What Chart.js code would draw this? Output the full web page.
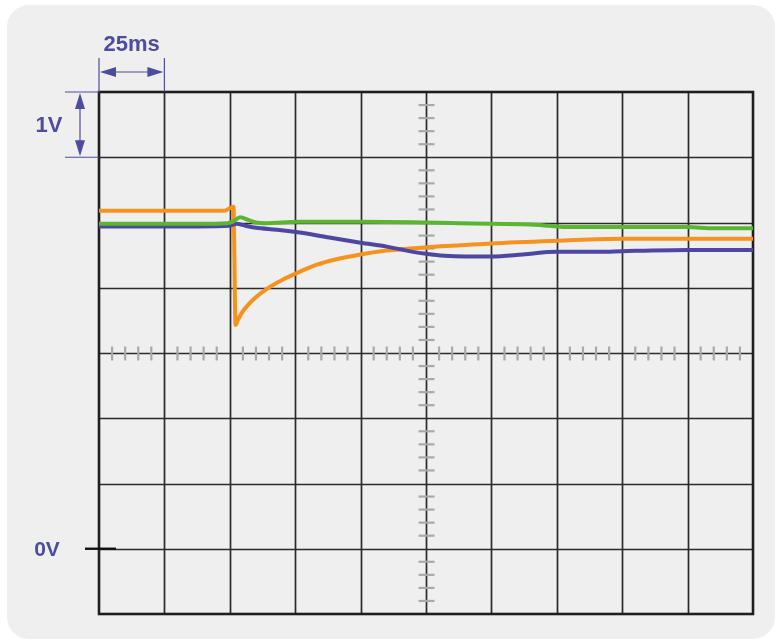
<!DOCTYPE html>
<html>
<head>
<meta charset="utf-8">
<script src="https://cdn.jsdelivr.net/npm/chart.js@4.4.1/dist/chart.umd.min.js"></script>
<style>
  html, body { margin: 0; padding: 0; background: #ffffff; }
  #wrap { width: 779px; height: 642px; position: relative; }
</style>
</head>
<body>
<div id="wrap"><canvas id="c" width="779" height="642"></canvas></div>
<script>
// ---- data (time in ms, voltage in V) ----
const greenT = [0, 38, 49, 51, 54, 57, 60, 64, 76, 100, 125, 138, 150, 165, 172, 178, 199, 225, 235, 250];
const greenV = [4.98, 4.98, 4.99, 5.01, 5.08, 5.04, 5.00, 4.99, 5.01, 5.01, 5.00, 4.99, 4.98, 4.97, 4.95, 4.93, 4.93, 4.93, 4.91, 4.91];

const blueT = [0, 38, 50, 52.5, 56, 60, 68, 76, 88, 100, 110, 115, 120, 125, 132, 140, 150, 162, 175, 192, 200, 225, 250];
const blueV = [4.94, 4.94, 4.95, 4.98, 4.95, 4.92, 4.89, 4.85, 4.77, 4.69, 4.63, 4.59, 4.55, 4.52, 4.49, 4.48, 4.48, 4.51, 4.55, 4.55, 4.56, 4.58, 4.58];

const orangeT = [0, 48, 50, 51.4, 52.2, 53, 55, 59, 64, 70, 77, 83, 90, 100, 110, 125, 138, 150, 175, 200, 225, 250];
const orangeV = [5.18, 5.18, 5.22, 5.24, 3.43, 3.50, 3.64, 3.82, 3.98, 4.12, 4.25, 4.35, 4.43, 4.51, 4.57, 4.62, 4.65, 4.68, 4.72, 4.75, 4.75, 4.75];

// scope settings
const timeDiv = 25;   // ms per division
const voltDiv = 1;    // V per division
const xMin = 0, xMax = 250;
const yMin = -1, yMax = 7;
const timeLabel = '25ms';
const voltLabel = '1V';
const zeroLabel = '0V';

const pts = (t, v) => t.map((x, i) => ({ x: x, y: v[i] }));

const PURPLE = '#4e4c9c';

function arrowHead(ctx, x, y, dir, len, half) {
  ctx.beginPath();
  ctx.moveTo(x, y);
  if (dir === 'l') { ctx.lineTo(x + len, y - half); ctx.lineTo(x + len, y + half); }
  if (dir === 'r') { ctx.lineTo(x - len, y - half); ctx.lineTo(x - len, y + half); }
  if (dir === 'u') { ctx.lineTo(x - half, y + len); ctx.lineTo(x + half, y + len); }
  if (dir === 'd') { ctx.lineTo(x - half, y - len); ctx.lineTo(x + half, y - len); }
  ctx.closePath();
  ctx.fill();
}

const scopePlugin = {
  id: 'scope',
  beforeDraw(chart) {
    const ctx = chart.ctx;
    ctx.save();
    ctx.fillStyle = '#efefef';
    ctx.beginPath();
    ctx.roundRect(7, 5, 768, 634, 22);
    ctx.fill();
    ctx.restore();
  },
  beforeDatasetsDraw(chart) {
    const ctx = chart.ctx;
    const xs = chart.scales.x, ys = chart.scales.y;
    const a = chart.chartArea;
    ctx.save();
    ctx.strokeStyle = '#2a2a2a';
    ctx.lineWidth = 1.7;
    for (let t = xMin + timeDiv; t < xMax; t += timeDiv) {
      const px = Math.round(xs.getPixelForValue(t)) + 0.5;
      ctx.beginPath(); ctx.moveTo(px, a.top); ctx.lineTo(px, a.bottom); ctx.stroke();
    }
    for (let v = yMin + voltDiv; v < yMax; v += voltDiv) {
      const py = Math.round(ys.getPixelForValue(v)) + 0.5;
      ctx.beginPath(); ctx.moveTo(a.left, py); ctx.lineTo(a.right, py); ctx.stroke();
    }
    const cx = Math.round(xs.getPixelForValue((xMin + xMax) / 2)) + 0.5;
    const cy = Math.round(ys.getPixelForValue((yMin + yMax) / 2)) + 0.5;
    ctx.strokeStyle = '#a9a9a9';
    ctx.lineWidth = 2.2;
    for (let i = 1; i < 50; i++) {
      if (i % 5 === 0) continue;
      const px = xs.getPixelForValue(xMin + i * timeDiv / 5);
      ctx.beginPath(); ctx.moveTo(px, cy - 7); ctx.lineTo(px, cy + 7); ctx.stroke();
    }
    for (let i = 1; i < 40; i++) {
      if (i % 5 === 0) continue;
      const py = ys.getPixelForValue(yMin + i * voltDiv / 5);
      ctx.beginPath(); ctx.moveTo(cx - 8, py); ctx.lineTo(cx + 8, py); ctx.stroke();
    }
    ctx.strokeStyle = '#1e1e1e';
    ctx.lineWidth = 2.6;
    ctx.strokeRect(a.left, a.top, a.right - a.left, a.bottom - a.top);
    ctx.restore();
  },
  afterDraw(chart) {
    const ctx = chart.ctx;
    const xs = chart.scales.x, ys = chart.scales.y;
    const a = chart.chartArea;
    ctx.save();
    ctx.fillStyle = PURPLE;
    ctx.strokeStyle = PURPLE;
    ctx.lineWidth = 1.2;
    const x0 = xs.getPixelForValue(xMin), x1 = xs.getPixelForValue(xMin + timeDiv);
    const ay = a.top - 20;
    ctx.beginPath();
    ctx.moveTo(x0, a.top - 34); ctx.lineTo(x0, a.top);
    ctx.moveTo(x1, a.top - 34); ctx.lineTo(x1, a.top);
    ctx.moveTo(x0 + 6, ay); ctx.lineTo(x1 - 6, ay);
    ctx.stroke();
    arrowHead(ctx, x0 + 1, ay, 'l', 16, 5);
    arrowHead(ctx, x1 - 1, ay, 'r', 16, 5);
    ctx.font = 'bold 22px "Liberation Sans", Arial, sans-serif';
    ctx.textAlign = 'center';
    ctx.textBaseline = 'middle';
    ctx.fillText(timeLabel, (x0 + x1) / 2, a.top - 47);
    const y0 = ys.getPixelForValue(yMax), y1 = ys.getPixelForValue(yMax - voltDiv);
    const ax = a.left - 19;
    ctx.beginPath();
    ctx.moveTo(a.left - 34, y0); ctx.lineTo(a.left, y0);
    ctx.moveTo(a.left - 34, y1); ctx.lineTo(a.left, y1);
    ctx.moveTo(ax, y0 + 6); ctx.lineTo(ax, y1 - 6);
    ctx.stroke();
    arrowHead(ctx, ax, y0 + 1, 'u', 16, 5);
    arrowHead(ctx, ax, y1 - 1, 'd', 16, 5);
    ctx.fillText(voltLabel, 49, (y0 + y1) / 2 + 1);
    const yz = ys.getPixelForValue(0);
    ctx.font = 'bold 21px "Liberation Sans", Arial, sans-serif';
    ctx.fillText(zeroLabel, 47, yz + 1);
    ctx.strokeStyle = '#111';
    ctx.lineWidth = 2.4;
    ctx.beginPath(); ctx.moveTo(a.left - 14, yz); ctx.lineTo(a.left + 17, yz); ctx.stroke();
    ctx.restore();
  }
};

const common = { pointRadius: 0, borderWidth: 4, fill: false, cubicInterpolationMode: 'monotone', borderCapStyle: 'round', borderJoinStyle: 'round' };

new Chart(document.getElementById('c'), {
  type: 'line',
  data: {
    datasets: [
      Object.assign({ label: 'green', data: pts(greenT, greenV), borderColor: '#5cb531' }, common),
      Object.assign({ label: 'blue', data: pts(blueT, blueV), borderColor: '#4d47a2' }, common),
      Object.assign({ label: 'orange', data: pts(orangeT, orangeV), borderColor: '#f6921e' }, common)
    ]
  },
  options: {
    responsive: false,
    animation: false,
    devicePixelRatio: 1,
    layout: { padding: { left: 99, top: 92, right: 26, bottom: 28 } },
    plugins: { legend: { display: false }, tooltip: { enabled: false } },
    scales: {
      x: { type: 'linear', min: xMin, max: xMax, display: false },
      y: { type: 'linear', min: yMin, max: yMax, display: false }
    }
  },
  plugins: [scopePlugin]
});
</script>
</body>
</html>
